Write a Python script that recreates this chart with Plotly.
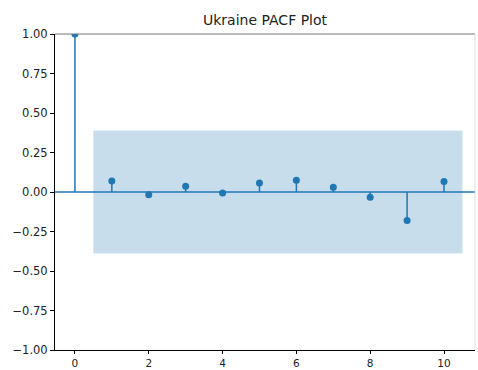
import plotly.graph_objects as go

lags = [0, 1, 2, 3, 4, 5, 6, 7, 8, 9, 10]
pacf = [1.0, 0.07, -0.017, 0.036, -0.006, 0.057, 0.074, 0.03, -0.034, -0.18, 0.067]
conf_lags = [0.5, 10.5]
conf_half = 0.39
title = "Ukraine PACF Plot"
yticks = [-1.0, -0.75, -0.5, -0.25, 0.0, 0.25, 0.5, 0.75, 1.0]
xticks = [0, 2, 4, 6, 8, 10]

blue = "#1f77b4"
fig = go.Figure()

# confidence band
fig.add_trace(go.Scatter(
    x=[conf_lags[0], conf_lags[1], conf_lags[1], conf_lags[0], conf_lags[0]],
    y=[conf_half, conf_half, -conf_half, -conf_half, conf_half],
    fill="toself", fillcolor="rgba(31,119,180,0.25)", line=dict(width=0),
    mode="lines", hoverinfo="skip", showlegend=False))

# zero line
fig.add_hline(y=0, line=dict(color=blue, width=1.3))

# stems
sx, sy = [], []
for l, v in zip(lags, pacf):
    sx += [l, l, None]
    sy += [0, v, None]
fig.add_trace(go.Scatter(x=sx, y=sy, mode="lines",
                         line=dict(color=blue, width=1.5), showlegend=False))
# markers
fig.add_trace(go.Scatter(x=lags, y=pacf, mode="markers",
                         marker=dict(color=blue, size=7), showlegend=False))

# top and right spines (lighter)
fig.add_shape(type="line", xref="x domain", yref="y domain", x0=0, x1=1, y0=1, y1=1,
              line=dict(color="#777777", width=1))
fig.add_shape(type="line", xref="x domain", yref="y domain", x0=1, x1=1, y0=0, y1=1,
              line=dict(color="#dddddd", width=1))

axis_common = dict(showline=True, linecolor="black", linewidth=1, mirror=False,
                   ticks="outside", tickcolor="black", showgrid=False,
                   zeroline=False, automargin=False)
fig.update_xaxes(range=[-0.54, 10.84], tickvals=xticks, ticklen=3,
                 tickfont=dict(family="DejaVu Sans", size=10.5, color="#222"), **axis_common)
fig.update_yaxes(range=[-1.0, 1.0], tickvals=yticks, ticklen=4,
                 tickfont=dict(family="DejaVu Sans", size=11.5, color="#222"),
                 ticktext=[f"{t:.2f}".replace("-", "\u2212") for t in yticks], **axis_common)

fig.update_layout(
    width=478, height=370,
    margin=dict(l=55, r=3, t=34, b=20),
    paper_bgcolor="white", plot_bgcolor="white",
    title=dict(text=title, x=(55 + 475) / 2 / 478, xanchor="center", y=1 - 20 / 370, yanchor="middle",
               font=dict(family="DejaVu Sans", size=14, color="#222")),
)
fig.write_html("out.html", config={"displayModeBar": False},
               post_script="document.body.style.margin='0';document.body.style.overflow='hidden';")
